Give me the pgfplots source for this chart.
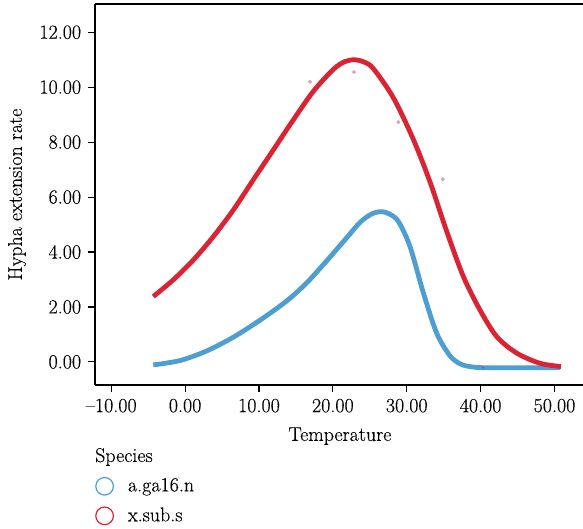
\documentclass[border=0pt]{standalone}
\usepackage{fontspec}
\setmainfont{Latin Modern Roman}[FakeBold=0.25]
\usepackage{pgfplots}
\pgfplotsset{compat=1.18}
\definecolor{redC}{RGB}{218,36,52}
\definecolor{blueC}{RGB}{78,158,210}
\definecolor{dotC}{RGB}{215,165,190}
\definecolor{purpC}{RGB}{150,90,200}
\begin{document}
\fontsize{20}{23}\selectfont
\begin{tikzpicture}
\path[use as bounding box] (0pt,0pt) rectangle (583pt,529pt);
\begin{axis}[
  at={(95pt,144pt)}, anchor=south west,
  scale only axis, width=500pt, height=381pt,
  xmin=-12.2, xmax=55.48, ymin=-0.84, ymax=13.03,
  axis lines*=left,
  axis line style={line width=1.1pt, black},
  xtick={-10,0,10,20,30,40,50},
  xticklabels={--10.00,0.00,10.00,20.00,30.00,40.00,50.00},
  ytick={0,2,4,6,8,10,12},
  yticklabel style={/pgf/number format/.cd, fixed, fixed zerofill, precision=2},
  /pgf/number format/assume math mode=true,
  tick align=outside, major tick length=7pt,
  xtick pos=bottom, ytick pos=left,
  tick style={black, line width=1.1pt},
  tick label style={font=\fontsize{20}{23}\selectfont},
  label style={font=\fontsize{20}{23}\selectfont},
  xlabel={Temperature},
  xlabel style={at={(axis description cs:0.4898,-0.134)}, anchor=center},
  ylabel={Hypha extension rate},
  ylabel style={at={(axis description cs:-0.156,0.5)}, anchor=center, rotate=0},
  legend style={at={(axis description cs:-0.006,-0.2336)}, anchor=north west,
    draw=none, fill=none, font=\fontsize{20}{23}\selectfont,
    nodes={inner sep=2pt}, row sep=9pt,
    /tikz/every odd column/.append style={column sep=12pt}},
  legend cell align=left,
  legend image code/.code={\draw[line width=1.2pt,#1] (0pt,0pt) circle (8.8pt);},
]
\draw[line width=1.1pt, black] (rel axis cs:0,1) -- (rel axis cs:1,1);
\addplot[smooth, line width=4.8pt, blueC, forget plot] coordinates {
(-4.31,-0.11) (-0.69,0.05) (2.92,0.40) (6.52,0.90) (10.14,1.52) (13.75,2.22)
(16.46,2.88) (19.16,3.68) (21.87,4.52) (23.67,5.08) (25.2,5.38) (26.5,5.47)
(27.7,5.38) (28.9,5.10) (30.44,4.20) (32.24,2.52) (34.06,1.04) (35.86,0.22)
(37.3,-0.08) (38.8,-0.18) (40.36,-0.21) (45.0,-0.21) (50.75,-0.21)};
\addplot[smooth, line width=4.8pt, redC, forget plot] coordinates {
(-4.31,2.38) (-1.60,2.99) (1.11,3.71) (3.81,4.56) (6.52,5.53) (9.23,6.63)
(11.94,7.72) (14.64,8.81) (17.35,9.85) (20.06,10.65) (21.6,10.93) (22.9,11.0)
(24.2,10.92) (25.47,10.68) (28.18,9.62) (30.89,8.10) (33.15,6.55) (35.41,4.75)
(37.66,3.11) (39.91,1.89) (42.18,0.92) (44.89,0.32) (48.04,-0.05) (50.88,-0.17)};
\addplot[only marks, mark=*, mark size=1.8pt, dotC, forget plot] coordinates {
(16.91,10.2) (22.86,10.55) (28.86,8.73) (34.87,6.65)};
\addplot[only marks, mark=*, mark size=1.3pt, purpC, forget plot] coordinates {(40.32,-0.2)};
\addlegendimage{draw=blueC}
\addlegendentry{a.ga16.n}
\addlegendimage{draw=redC}
\addlegendentry{x.sub.s}
\end{axis}
\node[anchor=base west, inner sep=0pt, font=\fontsize{20}{23}\selectfont] at (95pt,67pt) {Species};
\end{tikzpicture}
\end{document}
